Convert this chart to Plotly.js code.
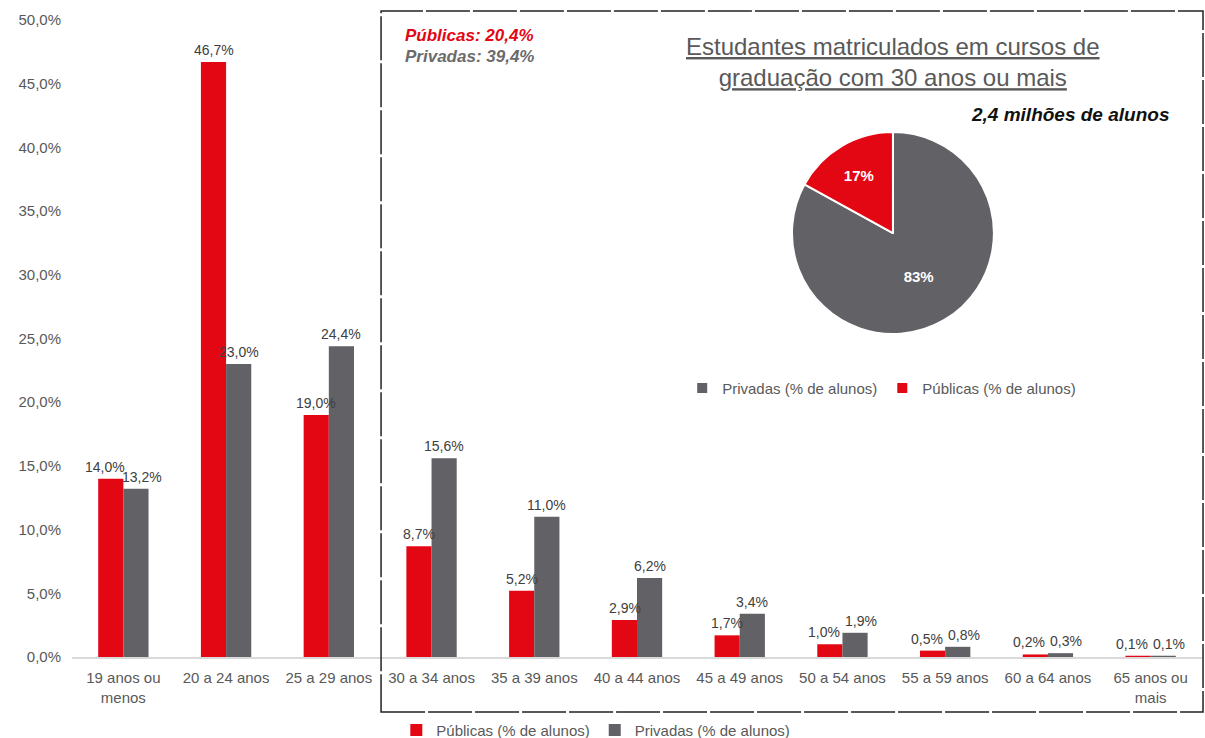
<!DOCTYPE html>
<html>
<head>
<meta charset="utf-8">
<script src="https://cdn.plot.ly/plotly-3.0.1.min.js"></script>
<style>html,body{margin:0;padding:0;background:#fff;}#chart{width:1205px;height:738px;}</style>
</head>
<body>
<div id="chart"></div>
<script>
const categories = ["19 anos ou<br>menos","20 a 24 anos","25 a 29 anos","30 a 34 anos","35 a 39 anos","40 a 44 anos","45 a 49 anos","50 a 54 anos","55 a 59 anos","60 a 64 anos","65 anos ou<br>mais"];
const publicas = [14.0, 46.7, 19.0, 8.7, 5.2, 2.9, 1.7, 1.0, 0.5, 0.2, 0.1];
const privadas = [13.2, 23.0, 24.4, 15.6, 11.0, 6.2, 3.4, 1.9, 0.8, 0.3, 0.1];
const pieLabels = ["Privadas (% de alunos)", "Públicas (% de alunos)"];
const pieValues = [83, 17];
const seriesNames = ["Públicas (% de alunos)", "Privadas (% de alunos)"];
const yTicks = [0, 5, 10, 15, 20, 25, 30, 35, 40, 45, 50];

const RED = "#E30613";
const GREY = "#616166";
const TXT = "#595959";
const FONT = "Liberation Sans, Arial, sans-serif";

const fmt = v => v.toFixed(1).replace(".", ",") + "%";

const traces = [
  {type: "bar", name: seriesNames[0], x: categories, y: publicas,
   marker: {color: RED}, legend: "legend", hoverinfo: "y"},
  {type: "bar", name: seriesNames[1], x: categories, y: privadas,
   marker: {color: GREY}, legend: "legend", hoverinfo: "y"},
  {type: "pie", labels: pieLabels, values: pieValues, sort: false,
   direction: "clockwise", rotation: 0,
   marker: {colors: [GREY, RED], line: {color: "#fff", width: 2}},
   texttemplate: "%{value}%", textposition: "inside",
   insidetextfont: {family: FONT, size: 15, color: "#fff", weight: "bold"},
   domain: {x: [0.637, 0.816], y: [0.507, 0.824]},
   legend: "legend2", hoverinfo: "label+percent"}
];

// value labels above bars, pushed apart when the two labels of a group would collide
const pxPerUnit = 637 / 50;
const labelAnns = [];
categories.forEach((c, i) => {
  const a = publicas[i], b = privadas[i];
  const close = Math.abs(a - b) * pxPerUnit < 16;
  const extra = close ? 6 : 0;
  labelAnns.push({x: c, y: a, xref: "x", yref: "y", text: fmt(a), showarrow: false,
    xanchor: "center", yanchor: "bottom", xshift: -12.5 - extra, yshift: 2,
    font: {family: FONT, size: 14, color: "#404040"}});
  labelAnns.push({x: c, y: b, xref: "x", yref: "y", text: fmt(b), showarrow: false,
    xanchor: "center", yanchor: "bottom", xshift: 12.5 + extra, yshift: 2,
    font: {family: FONT, size: 14, color: "#404040"}});
});

const layout = {
  width: 1205, height: 738,
  margin: {l: 72, r: 3, t: 20, b: 81, autoexpand: false},
  paper_bgcolor: "#fff", plot_bgcolor: "#fff",
  font: {family: FONT, size: 15, color: TXT},
  barmode: "group", bargap: 0.51, bargroupgap: 0,
  xaxis: {
    type: "category", showgrid: false, showline: true, linecolor: "#d9d9d9", linewidth: 2,
    ticks: "", ticklabelstandoff: 6, tickfont: {family: FONT, size: 15, color: TXT}, fixedrange: true
  },
  yaxis: {
    range: [0, 50], tickmode: "array", tickvals: yTicks, ticktext: yTicks.map(fmt),
    showgrid: false, zeroline: false, showline: false, ticks: "", ticklabelstandoff: 10,
    tickfont: {family: FONT, size: 15, color: TXT}, fixedrange: true
  },
  showlegend: true,
  legend: {
    orientation: "h", x: 0.287, xanchor: "left", y: -0.115, yanchor: "middle",
    font: {family: FONT, size: 15, color: TXT}, itemwidth: 30, traceorder: "normal",
    bgcolor: "rgba(0,0,0,0)"
  },
  legend2: {
    orientation: "h", x: 0.54, xanchor: "left", y: 0.422, yanchor: "middle",
    font: {family: FONT, size: 15, color: TXT}, itemwidth: 30,
    bgcolor: "rgba(0,0,0,0)"
  },
  shapes: [
    {type: "rect", xref: "paper", yref: "paper", x0: 0.2735, x1: 1.0009, y0: -0.0863, y1: 1.0141,
     line: {color: "#222", width: 1.5, dash: "44px,3px"}, fillcolor: "rgba(0,0,0,0)", layer: "above"}
  ],
  annotations: labelAnns.concat([
    {xref: "paper", yref: "paper", x: 0.7265, y: 0.934, xanchor: "center", yanchor: "middle",
     text: "<u>Estudantes matriculados em cursos de</u><br><u>graduação com 30 anos ou mais</u>",
     showarrow: false, font: {family: FONT, size: 24, color: TXT}},
    {xref: "paper", yref: "paper", x: 0.973, y: 0.851, xanchor: "right", yanchor: "middle",
     text: "<b><i>2,4 milhões de alunos</i></b>", showarrow: false,
     font: {family: FONT, size: 19, color: "#111"}},
    {xref: "paper", yref: "paper", x: 0.293, y: 0.976, xanchor: "left", yanchor: "middle",
     text: "<b><i>Públicas: 20,4%</i></b>", showarrow: false,
     font: {family: FONT, size: 17, color: RED}},
    {xref: "paper", yref: "paper", x: 0.293, y: 0.943, xanchor: "left", yanchor: "middle",
     text: "<b><i>Privadas: 39,4%</i></b>", showarrow: false,
     font: {family: FONT, size: 17, color: "#6b6b6b"}}
  ])
};

Plotly.newPlot("chart", traces, layout, {displayModeBar: false, staticPlot: true});
</script>
</body>
</html>
